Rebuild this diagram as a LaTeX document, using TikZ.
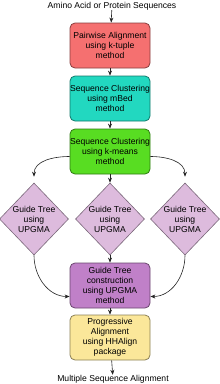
\documentclass[tikz,border=0pt]{standalone}
\usepackage{fontspec}
\setmainfont{Liberation Sans}
\usetikzlibrary{shapes.geometric,arrows.meta}
\definecolor{cred}{HTML}{F57070}
\definecolor{cteal}{HTML}{22D8C0}
\definecolor{cgreen}{HTML}{58DD22}
\definecolor{cdia}{HTML}{DDBBDD}
\definecolor{cpurp}{HTML}{C080C8}
\definecolor{cyel}{HTML}{FBE79A}
\tikzset{
  box/.style={draw=#1!55!black, fill=#1, rounded corners=5pt, line width=0.8pt,
    minimum width=80pt, minimum height=45pt, inner sep=0pt, align=center,
    font=\fontsize{8.6}{10}\selectfont},
  dia/.style={diamond, draw=cdia!55!black, fill=cdia, line width=0.6pt,
    minimum width=68pt, minimum height=72pt, inner sep=0pt, align=center,
    font=\fontsize{8.6}{10}\selectfont},
  lbl/.style={font=\fontsize{8.6}{10}\selectfont, inner sep=0pt},
  arr/.style={-{Stealth[length=5pt,width=4pt]}, line width=0.6pt, draw=black!85},
}
\begin{document}
\begin{tikzpicture}[x=1pt,y=-1pt]
\useasboundingbox (0,0) rectangle (220,384);
\node[lbl] (top) at (112,6) {Amino Acid or Protein Sequences};
\node[box=cred] (b1) at (110,45.5) {Pairwise Alignment\\using k-tuple\\method};
\node[box=cteal] (b2) at (110,98.5) {Sequence Clustering\\using mBed\\method};
\node[box=cgreen] (b3) at (110,151.5) {Sequence Clustering\\using k-means\\method};
\node[dia] (d1) at (34,219) {Guide Tree\\using\\UPGMA};
\node[dia] (d2) at (110,219) {Guide Tree\\using\\UPGMA};
\node[dia] (d3) at (185,219) {Guide Tree\\using\\UPGMA};
\node[box=cpurp] (b4) at (110,285.5) {Guide Tree\\construction\\using UPGMA\\method};
\node[box=cyel] (b5) at (110,337.5) {Progressive\\Alignment\\using HHAlign\\package};
\node[lbl] (bot) at (113,379) {Multiple Sequence Alignment};
\draw[arr] (top) -- (b1);
\draw[arr] (b1) -- (b2);
\draw[arr] (b2) -- (b3);
\draw[arr] (b3) -- (d2);
\draw[arr] ([yshift=-5pt]b3.west) to[out=180,in=90] ([yshift=6pt]d1.north);
\draw[arr] ([yshift=-5pt]b3.east) to[out=0,in=90] ([yshift=6pt]d3.north);
\draw[arr] (d2) -- (b4);
\draw[arr] (d1.south) to[out=-90,in=180] ([yshift=-11pt]b4.west);
\draw[arr] (d3.south) to[out=-90,in=0] ([yshift=-11pt]b4.east);
\draw[arr] (b4) -- (b5);
\draw[arr] (b5) -- (bot);
\end{tikzpicture}
\end{document}
